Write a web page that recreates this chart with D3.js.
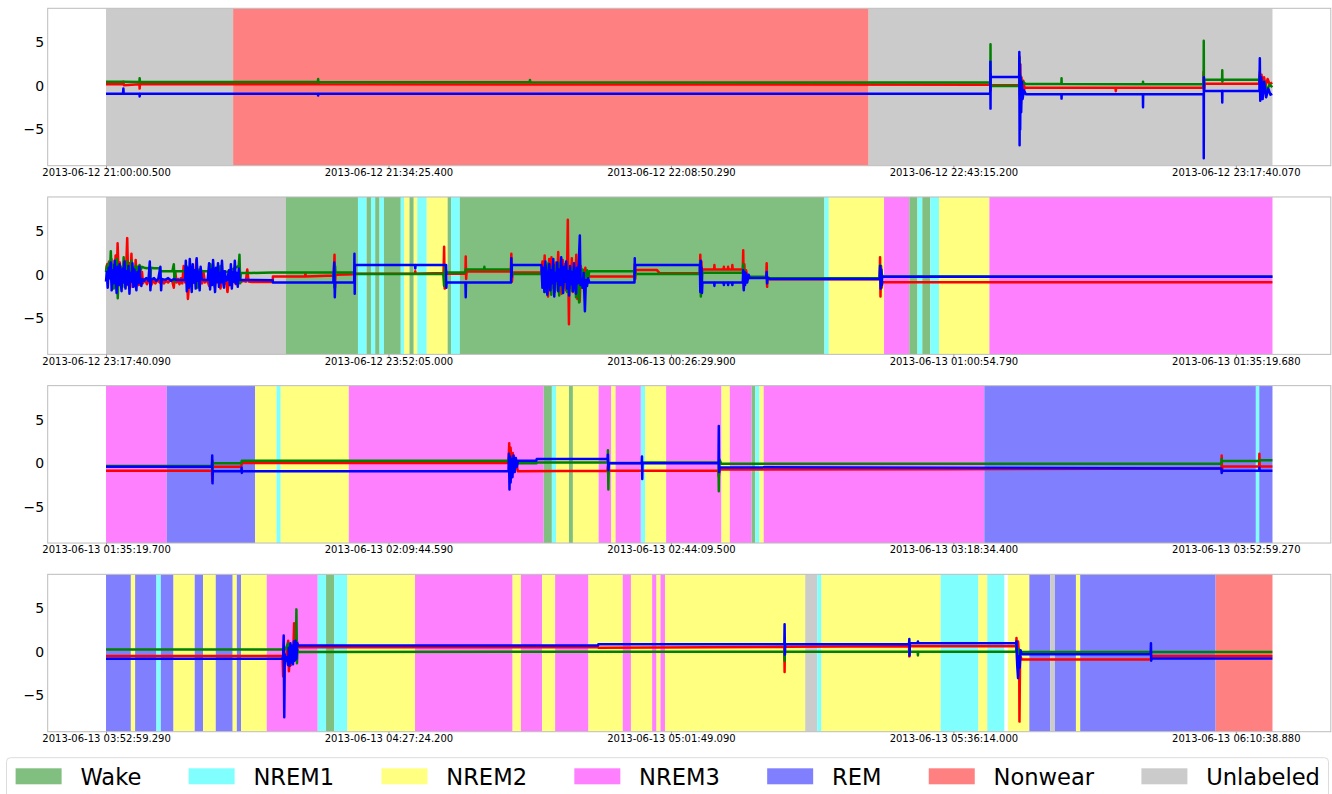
<!DOCTYPE html>
<html><head><meta charset="utf-8">
<script src="https://cdn.jsdelivr.net/npm/d3@7"></script>
<style>
body{margin:0;background:#fff}
svg{display:block}
text{font-family:"DejaVu Sans",sans-serif}
</style>
</head><body>
<svg id="chart" width="1332" height="794"></svg>
<script>
// ---------- data ----------
const stageNames  = ["Wake","NREM1","NREM2","NREM3","REM","Nonwear","Unlabeled"];
const stageColors = ["#80bf80","#80ffff","#ffff80","#ff80ff","#8080ff","#ff8080","#cbcbcb"];
const tickSeconds = [0,2000,4000,6000,8000];
const panelDuration = 8259.6;
const yTicks = [5,0,-5];

const ticks1 = ["2013-06-12 21:00:00.500","2013-06-12 21:34:25.400","2013-06-12 22:08:50.290","2013-06-12 22:43:15.200","2013-06-12 23:17:40.070"];
const ticks2 = ["2013-06-12 23:17:40.090","2013-06-12 23:52:05.000","2013-06-13 00:26:29.900","2013-06-13 01:00:54.790","2013-06-13 01:35:19.680"];
const ticks3 = ["2013-06-13 01:35:19.700","2013-06-13 02:09:44.590","2013-06-13 02:44:09.500","2013-06-13 03:18:34.400","2013-06-13 03:52:59.270"];
const ticks4 = ["2013-06-13 03:52:59.290","2013-06-13 04:27:24.200","2013-06-13 05:01:49.090","2013-06-13 05:36:14.000","2013-06-13 06:10:38.880"];

// sleep-stage bands: [start s, end s, stage]
const stages1 = [[0,900,"Unlabeled"],[900,5400,"Nonwear"],[5400,8259.6,"Unlabeled"]];
const stages2 = [[0,1274,"Unlabeled"],[1274,1784,"Wake"],[1784,1845,"NREM1"],[1845,1876,"Wake"],[1876,1906,"NREM1"],
 [1906,1937,"Wake"],[1937,1968,"NREM1"],[1968,2087,"Wake"],[2087,2112,"NREM1"],[2112,2149,"NREM2"],[2149,2179,"Wake"],
 [2179,2204,"NREM2"],[2204,2271,"NREM1"],[2271,2419,"NREM2"],[2419,2443,"Wake"],[2443,2505,"NREM1"],[2505,5087,"Wake"],
 [5087,5118,"NREM1"],[5118,5509,"NREM2"],[5509,5688,"NREM3"],[5688,5746,"Wake"],[5746,5780,"NREM1"],[5780,5837,"Wake"],
 [5837,5898,"NREM1"],[5898,6255,"NREM2"],[6255,8259.6,"NREM3"]];
const stages3 = [[0,430,"NREM3"],[430,1056,"REM"],[1056,1207,"NREM2"],[1207,1237,"NREM1"],[1237,1719,"NREM2"],
 [1719,3099,"NREM3"],[3099,3157,"Wake"],[3157,3188,"NREM1"],[3188,3278,"NREM2"],[3278,3306,"Wake"],[3306,3488,"NREM2"],
 [3488,3578,"NREM3"],[3578,3608,"NREM2"],[3608,3787,"NREM3"],[3787,3818,"NREM1"],[3818,3966,"NREM2"],[3966,4358,"NREM3"],
 [4358,4417,"NREM2"],[4417,4571,"NREM3"],[4571,4598,"Wake"],[4598,4627,"NREM1"],[4627,4657,"NREM2"],[4657,6219,"NREM3"],
 [6219,8142,"REM"],[8142,8166,"NREM1"],[8166,8259.6,"REM"]];
const stages4 = [[0,176,"REM"],[176,206,"NREM2"],[206,357,"REM"],[357,388,"NREM1"],[388,478,"REM"],[478,628,"NREM2"],
 [628,687,"REM"],[687,777,"NREM2"],[777,897,"REM"],[897,926,"NREM2"],[926,956,"REM"],[956,1138,"NREM2"],[1138,1499,"NREM3"],
 [1499,1558,"NREM1"],[1558,1617,"Wake"],[1617,1708,"NREM1"],[1708,2188,"NREM2"],[2188,2879,"NREM3"],[2879,2938,"NREM2"],
 [2938,3088,"NREM3"],[3088,3180,"NREM2"],[3180,3416,"NREM3"],[3416,3659,"NREM2"],[3659,3717,"NREM3"],[3717,3867,"NREM2"],
 [3867,3898,"NREM3"],[3898,3926,"NREM2"],[3926,3958,"NREM3"],[3958,4951,"NREM2"],[4951,5036,"Unlabeled"],[5036,5066,"NREM1"],
 [5066,5910,"NREM2"],[5910,6177,"NREM1"],[6177,6240,"NREM2"],[6240,6361,"NREM1"],[6386,6538,"NREM2"],[6538,6686,"REM"],
 [6686,6719,"Unlabeled"],[6719,6868,"REM"],[6868,6898,"NREM2"],[6898,7857,"REM"],[7857,8259.6,"Nonwear"]];

// accelerometer signals: [t seconds from panel start, value]
const red1 = [[0,0.2],[120,0.2],[123,0.5],[126,0.1],[237,0.2],[238,-0.3],[240,0.2],[1500,0.2],[1502,0.5],[1504,0.2],[6255,0.15],
 [6262,0.15],[6263,1.2],[6264,-0.5],[6266,0.1],[6460,0.1],[6466,0.1],[6468,3.4],[6471,-1.0],[6474,2.5],[6478,-2.0],[6482,1.0],
 [6488,-0.5],[6495,0.6],[6505,-0.3],[6513,-0.2],[7148,-0.2],[7150,-0.6],[7152,-0.2],[7770,-0.2],[7772,1.6],[7775,-0.5],
 [7780,0.3],[7790,0.27],[8160,0.27],[8165,0.3],[8170,1.6],[8175,-1.0],[8182,1.3],[8190,-0.5],[8200,1.0],[8210,0.0],
 [8225,0.8],[8240,0.2],[8258,0.4]];
const green1 = [[0,0.5],[120,0.5],[237,0.45],[238,0.9],[240,0.45],[1500,0.45],[1502,0.8],[1504,0.42],[3000,0.42],[3002,0.7],
 [3004,0.42],[6262,0.4],[6263,4.8],[6264,-0.2],[6266,0.0],[6467,0.0],[6468,3.2],[6471,-1.5],[6475,1.2],[6480,0.0],
 [6490,0.5],[6513,0.23],[6765,0.23],[6766,0.9],[6767,0.23],[7342,0.2],[7343,0.5],[7344,0.2],[7772,0.2],[7773,5.2],
 [7774,-0.3],[7776,0.73],[7903,0.73],[7904,1.8],[7905,0.5],[7906,0.73],[8167,0.73],[8170,1.2],[8180,-0.3],[8200,0.5],
 [8220,-0.5],[8240,0.2],[8258,-0.15]];
const blue1 = [[0,-0.9],[120,-0.9],[123,-0.3],[125,-0.9],[237,-0.9],[238,-1.2],[240,-0.9],[1500,-0.9],[1502,-1.1],[1504,-0.9],
 [6261,-0.9],[6262,2.8],[6263,-2.6],[6264,1.5],[6265,1.03],[6466,1.03],[6467,3.9],[6469,-6.8],[6471,2.5],[6473,-5.0],
 [6476,1.0],[6480,-3.0],[6485,0.5],[6490,-1.5],[6500,-0.5],[6513,-0.96],[6765,-0.96],[6766,-1.45],[6767,-0.96],
 [7342,-0.96],[7343,-2.45],[7344,-0.96],[7772,-0.96],[7773,-8.3],[7774,1.0],[7776,-0.57],[7903,-0.57],[7904,-1.9],
 [7905,-0.57],[8167,-0.57],[8170,3.2],[8173,-1.7],[8180,1.0],[8190,-1.5],[8200,0.5],[8215,-1.3],[8230,-0.3],
 [8245,-1.0],[8258,-0.9]];

const red2 = [[0,0.4],[8,1.2],[15,-0.3],[22,1.5],[30,0.2],[38,1.8],[45,-0.8],[52,1.0],[60,0.1],[68,2.2],[75,-1.0],[82,3.6],
 [90,-0.5],[98,1.4],[105,-1.3],[112,0.9],[120,-0.6],[128,1.6],[135,-1.0],[142,0.5],[150,4.2],[158,-1.2],[165,1.3],
 [172,-0.8],[180,2.4],[188,-1.4],[195,0.8],[202,-1.1],[210,1.7],[218,-0.9],[225,0.6],[232,-1.2],[240,1.0],[248,-0.8],
 [255,0.3],[262,-1.0],[275,-0.5],[290,-1.1],[305,-0.6],[320,-1.2],[335,-0.7],[350,-1.0],[365,-0.6],[380,-0.9],[395,-0.5],
 [410,-1.0],[425,-0.7],[440,-0.9],[455,-0.6],[470,-0.8],[480,-1.5],[490,0.3],[500,-0.9],[510,-0.5],[520,-1.1],[530,-0.4],
 [540,-1.0],[550,1.0],[560,-0.9],[570,0.5],[580,-2.8],[590,-0.6],[600,-1.2],[610,0.2],[620,-0.9],[630,-0.6],[640,1.7],
 [650,-0.8],[660,-1.4],[670,-0.5],[680,-1.0],[690,0.3],[700,-0.9],[710,-0.7],[720,-0.8],[730,-1.3],[740,-0.4],[750,-1.0],
 [760,-0.6],[770,-1.2],[780,-0.5],[790,-0.9],[800,-0.7],[810,-1.6],[820,-0.8],[830,0.4],[840,-1.0],[850,-0.7],[860,-2.0],
 [870,-0.6],[880,-0.9],[890,-0.7],[900,0.2],[910,-0.8],[920,-1.1],[930,-0.7],[940,-0.9],[950,-0.7],[960,-0.8],[970,-0.7],
 [990,-0.8],[1000,0.6],[1010,-0.8],[1030,-0.85],[1180,-0.85],[1182,-0.2],[1410,-0.2],[1412,0.2],[1414,-0.2],[1612,-0.1],
 [1618,2.3],[1621,-1.5],[1625,0.0],[1759,0.05],[1760,0.5],[1762,0.1],[2188,0.1],[2190,0.4],[2192,0.1],[2390,0.2],
 [2394,3.2],[2398,-1.6],[2403,1.0],[2410,0.1],[2545,0.1],[2547,2.1],[2550,-0.5],[2553,0.35],[2866,0.35],[2870,2.4],
 [2874,-0.8],[2880,0.25],[3083,0.25],[3090,1.5],[3098,-1.0],[3106,2.2],[3114,-1.8],[3122,1.0],[3130,-2.5],[3138,1.8],
 [3146,-0.5],[3154,2.0],[3162,-1.5],[3170,0.8],[3178,-2.0],[3186,1.4],[3194,-0.8],[3202,2.6],[3210,-1.2],[3218,0.5],
 [3226,-2.2],[3234,1.7],[3242,-0.4],[3250,1.2],[3258,-1.8],[3266,2.0],[3270,6.3],[3274,-1.0],[3278,-5.7],[3282,0.8],
 [3290,-1.5],[3298,1.9],[3306,-2.0],[3314,0.6],[3322,-1.2],[3330,2.3],[3338,-2.8],[3346,0.4],[3354,-3.1],[3362,1.0],
 [3370,-1.5],[3378,0.5],[3386,-2.0],[3394,0.8],[3402,-1.0],[3410,0.2],[3422,-0.2],[3740,-0.2],[3744,1.2],[3747,-0.5],
 [3750,0.55],[3900,0.55],[3920,0.15],[4205,0.15],[4208,2.3],[4212,-1.0],[4216,1.5],[4220,0.0],[4223,0.6],[4306,0.6],
 [4308,1.1],[4310,0.6],[4373,0.6],[4375,0.9],[4377,0.6],[4403,0.6],[4405,0.9],[4407,0.6],[4433,0.6],[4435,1.1],
 [4437,0.6],[4509,0.6],[4512,2.8],[4516,-1.6],[4520,1.2],[4525,-0.8],[4532,0.5],[4545,-0.5],[4557,-0.3],[4675,-0.3],
 [4678,1.3],[4681,-1.4],[4684,-0.35],[4702,-0.54],[5478,-0.54],[5481,2.0],[5484,-2.5],[5488,1.0],[5492,-1.5],
 [5497,-0.88],[8259,-0.88]];
const green2 = [[0,0.3],[6,1.0],[13,-0.6],[20,1.4],[27,0.2],[34,2.7],[41,-0.8],[48,1.1],[55,-1.6],[62,0.9],[69,-0.4],
 [76,1.8],[83,-2.7],[90,0.5],[97,1.2],[104,-1.0],[111,0.8],[118,-0.3],[125,2.0],[132,-1.4],[139,0.7],[146,-0.6],
 [153,1.5],[160,-1.1],[167,0.9],[174,-0.2],[181,1.6],[188,-0.8],[195,0.6],[202,-1.2],[209,1.0],[216,0.2],[223,0.9],
 [230,-0.5],[237,1.1],[244,0.5],[255,0.9],[270,0.8],[290,0.75],[310,0.8],[314,-1.0],[318,0.8],[340,0.75],[380,0.75],
 [385,0.4],[420,0.4],[470,0.4],[480,1.2],[485,-0.8],[490,0.4],[560,0.4],[570,1.0],[580,-0.5],[590,0.7],[600,-0.2],
 [610,0.4],[640,0.4],[650,-1.5],[660,0.6],[680,0.4],[730,0.4],[740,1.2],[750,-0.8],[760,0.5],[770,-1.4],[780,0.6],
 [800,0.2],[810,1.0],[820,-0.4],[830,0.4],[860,0.3],[940,1.0],[945,2.3],[950,-1.0],[955,0.2],[1030,0.2],[1182,0.25],
 [1610,0.25],[1618,-1.5],[1622,1.0],[1625,0.25],[1757,0.25],[1759,0.08],[2388,0.08],[2394,-1.3],[2398,0.8],[2410,0.25],
 [2545,0.25],[2547,0.6],[2677,0.6],[2679,0.9],[2681,0.6],[2868,0.6],[2870,1.2],[2874,0.08],[3083,0.08],[3090,0.8],
 [3097,-1.2],[3104,0.5],[3111,-2.0],[3118,1.0],[3125,-0.8],[3132,1.3],[3139,-1.5],[3146,0.2],[3153,-2.3],[3160,0.9],
 [3167,-0.6],[3174,1.1],[3181,-1.8],[3188,0.4],[3195,-1.0],[3202,1.4],[3209,-2.4],[3216,0.3],[3223,-0.9],[3230,1.0],
 [3237,-1.6],[3244,0.6],[3251,-0.7],[3258,1.2],[3265,-2.0],[3272,0.5],[3279,-1.3],[3286,0.9],[3293,-0.4],[3300,-1.9],
 [3307,0.7],[3314,-1.1],[3321,0.4],[3328,-2.6],[3335,0.6],[3342,-1.0],[3350,-3.2],[3358,0.3],[3366,-1.4],[3374,0.6],
 [3382,-0.8],[3390,0.2],[3398,-1.2],[3406,0.5],[3414,-0.3],[3422,0.4],[3742,0.4],[3744,-0.5],[3748,0.08],[4205,0.08],
 [4208,1.5],[4212,-2.5],[4216,0.6],[4220,-1.0],[4223,0.23],[4509,0.23],[4512,1.2],[4516,-1.0],[4520,0.5],[4530,-0.5],
 [4557,-0.23],[4675,-0.23],[4702,-0.42],[5478,-0.42],[5481,1.1],[5484,-0.8],[5488,0.5],[5497,-0.2],[8259,-0.2]];
const blue2 = [[0,-0.8],[5,0.3],[12,-1.5],[19,0.8],[26,-0.4],[33,1.4],[40,-1.8],[47,0.5],[54,-1.0],[61,1.6],[68,-0.2],
 [75,-2.1],[82,0.9],[89,-1.2],[96,1.2],[103,-0.6],[110,-1.9],[117,0.7],[124,-0.9],[131,1.5],[138,-1.6],[145,0.4],
 [152,-1.1],[159,1.0],[166,-2.2],[173,0.2],[180,-0.8],[187,1.3],[194,-1.4],[201,0.6],[208,-0.7],[215,-1.8],[222,0.3],
 [229,-1.0],[236,0.9],[243,-0.6],[250,-1.3],[258,-0.5],[270,-0.7],[285,-0.4],[300,-0.7],[310,1.5],[314,-1.8],[320,-0.6],
 [340,-0.4],[355,-0.7],[370,-0.5],[385,0.9],[390,-1.8],[395,-0.5],[420,-0.6],[440,-0.4],[460,-0.7],[480,-0.5],[500,-0.6],
 [560,-0.6],[565,1.6],[572,-1.9],[579,0.8],[586,-1.5],[593,1.8],[600,-0.4],[607,-2.0],[614,1.2],[621,-0.9],[628,0.5],
 [635,-1.6],[642,1.9],[649,-0.7],[656,0.3],[663,-1.8],[670,0.9],[677,-0.5],[690,-0.6],[720,-0.6],[730,1.3],[737,-1.7],
 [744,0.6],[751,-1.2],[758,1.7],[765,-0.3],[772,-2.0],[779,0.8],[786,-0.8],[793,1.3],[800,-1.4],[807,0.2],[814,-0.9],
 [821,1.6],[828,-0.5],[835,-1.5],[842,0.4],[849,-0.7],[860,-0.6],[870,0.5],[877,-1.2],[884,1.2],[891,-1.6],[898,0.3],
 [905,-0.8],[912,1.6],[919,-1.0],[926,0.2],[933,-1.4],[940,0.7],[947,-0.6],[960,-0.6],[1030,-0.6],[1180,-0.65],
 [1182,-0.9],[1610,-0.9],[1616,1.4],[1620,-2.6],[1623,-0.9],[1757,-0.9],[1759,2.4],[1761,-2.2],[1763,1.1],[2188,1.1],
 [2190,0.7],[2192,1.1],[2408,1.1],[2410,-1.5],[2412,-0.9],[2545,-0.9],[2547,-2.6],[2549,-0.9],[2868,-0.9],[2870,1.9],
 [2872,-0.3],[2874,1.1],[3083,1.1],[3090,-1.5],[3097,0.8],[3104,-2.0],[3111,1.5],[3118,-0.6],[3125,-2.3],[3132,0.3],
 [3139,1.2],[3146,-1.8],[3153,0.5],[3160,-1.0],[3167,1.8],[3174,-2.5],[3181,0.2],[3188,-0.7],[3195,1.4],[3202,-1.9],
 [3209,0.6],[3216,-1.2],[3223,2.0],[3230,-0.4],[3237,-2.1],[3244,0.9],[3251,-0.8],[3258,1.5],[3265,-1.6],[3272,0.4],
 [3279,-2.4],[3286,1.0],[3293,-1.1],[3300,0.3],[3307,-1.9],[3314,1.3],[3321,-0.6],[3328,-2.2],[3335,0.8],[3342,-1.0],
 [3355,4.5],[3360,-1.2],[3368,-0.5],[3375,-1.5],[3382,0.2],[3391,-4.2],[3398,-0.6],[3406,-1.3],[3414,-0.4],[3422,-0.9],
 [3742,-0.9],[3744,1.9],[3746,0.2],[3748,1.1],[4205,1.1],[4208,-2.0],[4211,1.6],[4214,-1.5],[4217,0.8],[4220,-2.1],
 [4223,-0.9],[4306,-0.9],[4308,-1.3],[4310,-0.9],[4373,-0.9],[4375,-1.2],[4377,-0.9],[4403,-0.9],[4405,-1.2],[4407,-0.9],
 [4433,-0.9],[4435,-1.2],[4437,-0.9],[4509,-0.9],[4512,0.5],[4516,-1.8],[4520,0.3],[4525,-1.2],[4530,0.2],[4540,-0.9],
 [4550,0.0],[4557,-0.38],[4675,-0.38],[4678,0.3],[4681,-1.0],[4684,-0.38],[4700,-0.45],[4702,-0.5],[5478,-0.5],
 [5482,1.0],[5485,-1.6],[5490,0.6],[5494,-1.2],[5497,-0.23],[8259,-0.23]];

const red3 = [[0,-0.85],[750,-0.85],[752,-2.0],[754,0.3],[756,-0.4],[958,-0.4],[961,0.05],[2850,0.05],[2855,2.3],
 [2860,-1.0],[2865,1.8],[2870,-0.5],[2880,1.2],[2890,-0.9],[2900,0.4],[2916,-0.9],[3550,-0.85],[3554,-0.3],[3556,-1.2],
 [3560,-0.85],[4335,-0.85],[4339,-1.5],[4345,-0.7],[4356,-0.7],[5946,-0.68],[7742,-0.6],[7898,-0.6],[7900,0.9],
 [7902,-1.0],[7906,-0.35],[8165,-0.35],[8167,1.1],[8169,-0.35],[8259,-0.35]];
const green3 = [[0,-0.3],[750,-0.3],[752,0.2],[754,-0.6],[756,0.0],[958,0.0],[961,0.3],[2850,0.3],[2855,0.8],[2860,-0.8],
 [2870,0.5],[2890,-0.5],[2916,0.0],[3047,0.0],[3050,0.1],[3552,0.1],[3554,1.5],[3557,-3.0],[3560,0.05],[3795,0.05],
 [3797,0.1],[4337,0.1],[4339,-3.2],[4342,0.5],[4356,-0.05],[7898,-0.05],[7900,0.5],[7902,0.27],[8167,0.27],[8169,0.35],
 [8259,0.35]];
const blue3 = [[0,-0.4],[750,-0.4],[752,0.9],[754,-2.3],[756,-0.9],[958,-0.9],[960,-0.5],[962,-1.1],[964,-0.9],
 [2850,-0.9],[2853,1.1],[2857,-3.0],[2861,0.8],[2865,-2.2],[2870,0.5],[2878,-1.6],[2886,0.9],[2894,-1.0],[2902,0.6],
 [2910,-0.4],[2916,0.3],[3047,0.3],[3050,0.5],[3552,0.5],[3554,1.0],[3557,-0.8],[3560,0.0],[3793,0.0],[3795,0.8],
 [3797,-1.8],[3799,0.0],[4337,0.0],[4339,4.3],[4341,-1.0],[4345,-0.45],[7742,-0.6],[7898,-0.6],[7900,-1.1],[7903,-0.85],
 [8165,-0.85],[8167,-0.5],[8169,-0.85],[8259,-0.85]];

const red4 = [[0,-0.45],[1250,-0.45],[1254,-2.8],[1258,-0.5],[1266,-0.6],[1275,-0.4],[1290,1.3],[1295,-2.2],[1300,-0.6],
 [1310,-1.5],[1320,0.8],[1325,-0.5],[1332,3.3],[1336,0.5],[1345,-0.9],[1352,1.2],[1360,0.55],[3484,0.55],[3486,0.5],
 [4803,0.6],[4805,-2.3],[4807,0.6],[5686,0.65],[5688,-0.5],[5690,0.65],[6444,0.65],[6447,1.6],[6452,-1.0],[6458,1.2],
 [6466,-0.5],[6468,-8.0],[6472,-1.0],[6478,-0.6],[6483,-0.85],[7399,-0.85],[7401,-0.45],[8259,-0.45]];
const green4 = [[0,0.3],[1250,0.3],[1270,0.3],[1290,1.0],[1300,-0.5],[1310,0.4],[1320,-0.8],[1330,0.5],[1345,0.2],
 [1348,4.9],[1352,-1.3],[1356,0.3],[1360,0.0],[4803,0.04],[4805,-1.0],[4807,0.04],[5747,0.04],[5749,-0.4],[5751,0.04],
 [6444,0.04],[6447,1.0],[6455,-0.5],[6465,0.3],[6483,0.0],[8259,0.0]];
const blue4 = [[0,-0.77],[1250,-0.77],[1254,-0.5],[1258,1.9],[1262,-7.5],[1266,-0.3],[1272,-1.0],[1280,-0.6],[1289,-1.5],
 [1294,0.5],[1300,-1.6],[1306,1.0],[1312,-1.2],[1318,0.7],[1324,-1.4],[1330,1.2],[1336,-1.0],[1342,1.3],[1348,-0.8],
 [1354,1.0],[1360,0.75],[3484,0.75],[3486,0.88],[4803,0.88],[4805,3.2],[4807,-0.3],[4809,0.88],[5686,0.88],[5688,1.5],
 [5690,-0.4],[5692,1.0],[5747,1.0],[5749,1.2],[5751,1.0],[6444,1.0],[6447,1.2],[6452,-1.5],[6458,-3.0],[6464,-0.5],
 [6470,-1.8],[6476,0.2],[6483,-0.27],[7397,-0.27],[7399,1.0],[7401,-1.0],[7403,-0.75],[8259,-0.75]];

// ---------- drawing ----------
const panels = [
  {ticks:ticks1, stages:stages1, red:red1, green:green1, blue:blue1},
  {ticks:ticks2, stages:stages2, red:red2, green:green2, blue:blue2},
  {ticks:ticks3, stages:stages3, red:red3, green:green3, blue:blue3},
  {ticks:ticks4, stages:stages4, red:red4, green:green4, blue:blue4}
];
const svg = d3.select("#chart");
const left = 47.7, right = 1330.8, plotH = 157.4, firstTop = 8.3, step = 188.67;
const x = d3.scaleLinear().domain([-0.05*panelDuration, 1.05*panelDuration]).range([left, right]);
const color = d3.scaleOrdinal().domain(stageNames).range(stageColors);
const fmt = d3.format("d");

panels.forEach((p, i) => {
  const top = firstTop + i*step;
  const y = d3.scaleLinear().domain([-9.16, 8.93]).range([top + plotH, top]);
  const g = svg.append("g");
  const cid = "clip" + i;
  svg.append("clipPath").attr("id", cid).append("rect")
    .attr("x", left).attr("y", top).attr("width", right-left).attr("height", plotH);
  const inner = g.append("g").attr("clip-path", `url(#${cid})`);
  inner.selectAll("rect.band").data(p.stages).join("rect")
    .attr("class","band")
    .attr("x", d => x(d[0])).attr("width", d => x(d[1]) - x(d[0]))
    .attr("y", top).attr("height", plotH)
    .attr("fill", d => color(d[2]));
  const line = d3.line().x(d => x(d[0])).y(d => y(d[1]));
  [["red","#ff0000"],["green","#008000"],["blue","#0000ff"]].forEach(([k,c]) => {
    inner.append("path").datum(p[k]).attr("d", line)
      .attr("fill","none").attr("stroke",c).attr("stroke-width",2.5)
      .attr("stroke-linejoin","round");
  });
  g.append("rect").attr("x", left).attr("y", top).attr("width", right-left).attr("height", plotH)
    .attr("fill","none").attr("stroke","#bcbcbc").attr("stroke-width",1);
  const xa = g.append("g").attr("transform", `translate(0,${top+plotH})`)
    .call(d3.axisBottom(x).tickValues(tickSeconds).tickFormat((d,j) => p.ticks[j]).tickSize(3.5).tickPadding(-0.3));
  xa.select(".domain").remove();
  xa.selectAll("line").attr("stroke","#999");
  xa.selectAll("text").attr("font-size",10).attr("font-family","DejaVu Sans").attr("fill","#000");
  const ya = g.append("g").attr("transform", `translate(${left},0)`)
    .call(d3.axisLeft(y).tickValues(yTicks).tickFormat(d => d < 0 ? "\u2212" + fmt(-d) : fmt(d)).tickSize(0).tickPadding(3.5));
  ya.select(".domain").remove();
  ya.selectAll("text").attr("font-size",14).attr("font-family","DejaVu Sans").attr("fill","#000");
});

// legend
const lg = svg.append("g");
lg.append("rect").attr("x",6.5).attr("y",757.7).attr("width",1322).attr("height",60).attr("rx",4)
  .attr("fill","#fff").attr("stroke","#dcdcdc");
let cx = 15.6;
stageNames.forEach((n, i) => {
  lg.append("rect").attr("x",cx).attr("y",768.3).attr("width",46).attr("height",16).attr("fill",stageColors[i]);
  const t = lg.append("text").attr("x",cx+64.8).attr("y",785).attr("font-size",22.6).attr("fill","#000").text(n);
  cx = cx + 64.8 + t.node().getComputedTextLength() + 47.3;
});
</script>
</body></html>
